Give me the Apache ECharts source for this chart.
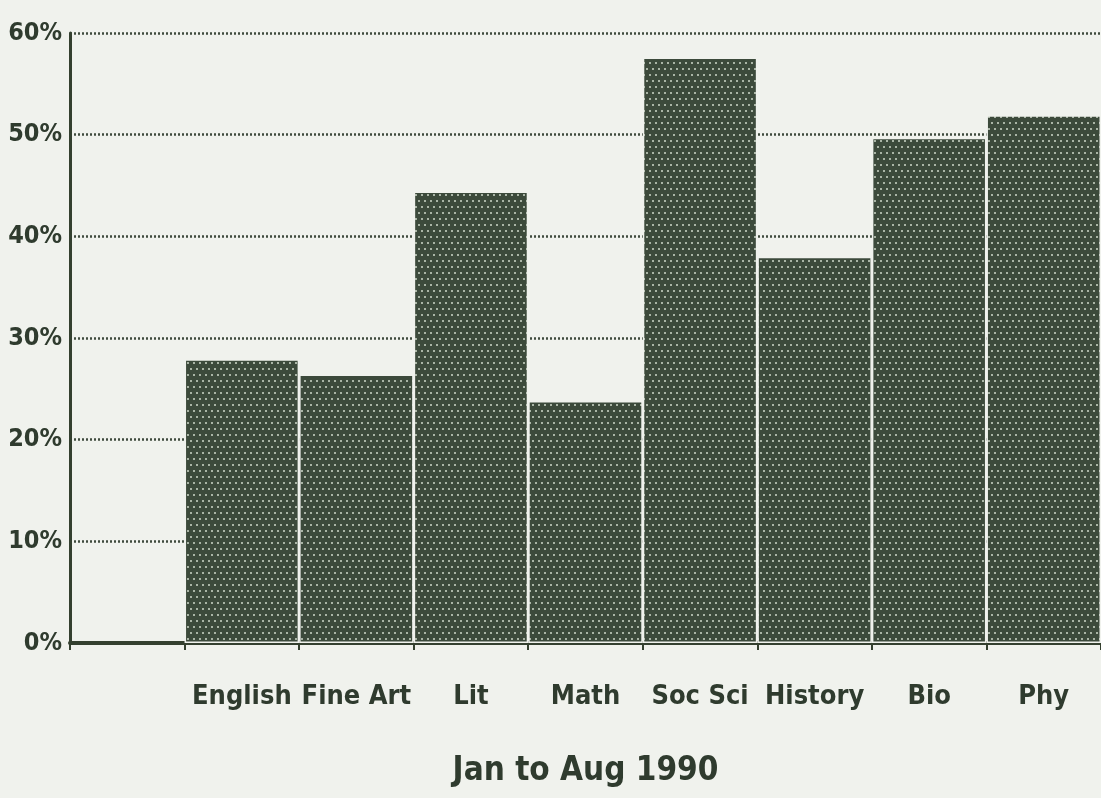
<!DOCTYPE html>
<html>
<head>
<meta charset="utf-8">
<script src="https://cdn.jsdelivr.net/npm/echarts@6/dist/echarts.min.js"></script>
<style>
html,body{margin:0;padding:0;background:#f0f2ed;}
#chart{width:1101px;height:798px;}
</style>
</head>
<body>
<div id="chart"></div>
<script>
const categories = ['', 'English', 'Fine Art', 'Lit', 'Math', 'Soc Sci', 'History', 'Bio', 'Phy'];
const values = ['-', 27.9, 26.4, 44.4, 23.8, 57.6, 38.0, 49.7, 51.9];
const yTicks = { min: 0, max: 60, interval: 10 };
const xTitle = 'Jan to Aug 1990';

const FONT = '"DejaVu Sans Condensed", "Liberation Sans Narrow", sans-serif';
const INK = '#2f3b2e';
const BG = '#f0f2ed';

// dotted bar texture
const tile = document.createElement('canvas');
tile.width = 6; tile.height = 12;
const c = tile.getContext('2d');
c.fillStyle = '#3c4a3b';
c.fillRect(0, 0, 6, 12);
c.fillStyle = '#aab5a6';
c.fillRect(1, 2, 2, 2);
c.fillRect(4, 8, 2, 2);

const chart = echarts.init(document.getElementById('chart'), null, { renderer: 'canvas' });
chart.setOption({
  backgroundColor: BG,
  animation: false,
  grid: { left: 70, right: 0, top: 33, bottom: 155, outerBoundsMode: 'none', containLabel: false },
  xAxis: {
    type: 'category',
    data: categories,
    boundaryGap: true,
    axisLine: { show: true, lineStyle: { color: '#34402f', width: 4 } },
    axisTick: { show: true, interval: 0, length: 7, lineStyle: { color: '#34402f', width: 2 } },
    axisLabel: { interval: 0, color: INK, fontFamily: FONT, fontWeight: 'bold', fontSize: 27, margin: 40 },
    name: xTitle,
    nameLocation: 'middle',
    nameGap: 112,
    nameTextStyle: { color: INK, fontFamily: FONT, fontWeight: 'bold', fontSize: 33 }
  },
  yAxis: {
    type: 'value',
    min: yTicks.min, max: yTicks.max, interval: yTicks.interval,
    axisLine: { show: true, lineStyle: { color: '#34402f', width: 3 } },
    axisTick: { show: false },
    axisLabel: { color: INK, fontFamily: FONT, fontWeight: 'bold', fontSize: 25, margin: 8, formatter: '{value}%' },
    splitLine: { show: true, lineStyle: { color: '#3f4b3e', width: 2.5, type: [2, 2] } }
  },
  series: [{
    type: 'bar',
    data: values,
    barWidth: '100%',
    barCategoryGap: '0%',
    itemStyle: {
      color: { image: tile, repeat: 'repeat' },
      borderColor: BG,
      borderWidth: 1.5
    }
  }]
});
</script>
</body>
</html>
